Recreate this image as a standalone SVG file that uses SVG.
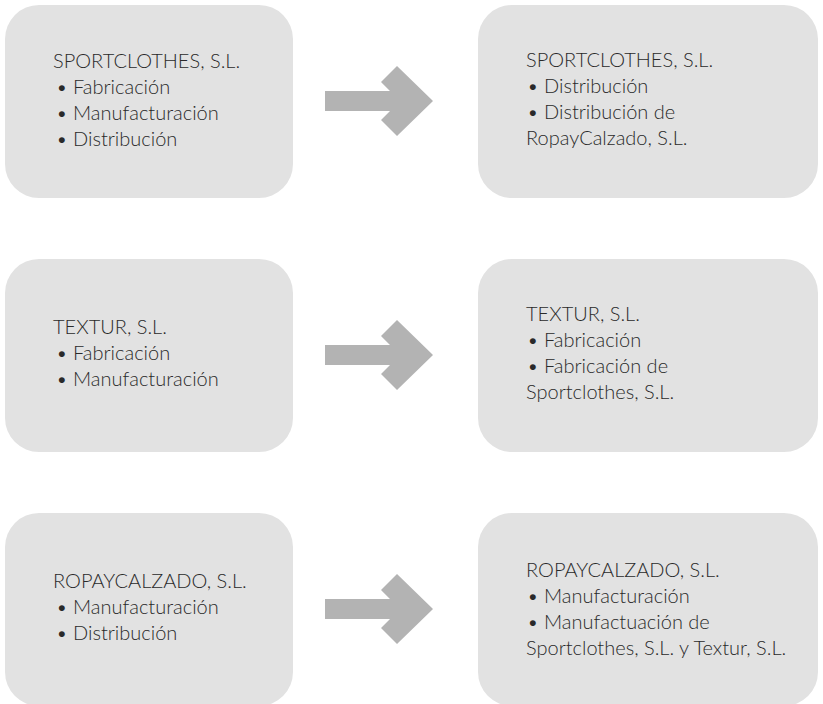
<svg xmlns="http://www.w3.org/2000/svg" width="823" height="704" viewBox="0 0 823 704">
<defs>
<style>
.box{fill:#e2e2e2}
.arrow{fill:#b3b3b3}
text{font-family:Lato,"Liberation Sans",sans-serif;font-weight:300;font-size:20px;fill:#2a2a2a}
</style>
<polygon id="arr" points="325,91 390,91 381,82 397,66 433,101 397,136 381,120 390,111 325,111"/>
</defs>
<rect width="823" height="704" fill="#fff"/>
<g id="connectors">
<use href="#arr" class="arrow"/>
<use href="#arr" class="arrow" y="254"/>
<use href="#arr" class="arrow" y="508"/>
</g>
<g id="n1">
<rect class="box" x="5" y="5" width="288" height="193" rx="34"/>
<text x="53" y="68">SPORTCLOTHES, S.L.</text>
<text x="56" y="94">• Fabricación</text>
<text x="56" y="120">• Manufacturación</text>
<text x="56" y="146">• Distribución</text>
</g>
<g id="n2">
<rect class="box" x="478" y="5" width="340" height="193" rx="34"/>
<text x="526" y="67">SPORTCLOTHES, S.L.</text>
<text x="527" y="93">• Distribución</text>
<text x="527" y="119">• Distribución de</text>
<text x="526" y="145">RopayCalzado, S.L.</text>
</g>
<g id="n3">
<rect class="box" x="5" y="259" width="288" height="193" rx="34"/>
<text x="53" y="334">TEXTUR, S.L.</text>
<text x="56" y="360">• Fabricación</text>
<text x="56" y="386">• Manufacturación</text>
</g>
<g id="n4">
<rect class="box" x="478" y="259" width="340" height="193" rx="34"/>
<text x="526" y="321">TEXTUR, S.L.</text>
<text x="527" y="347">• Fabricación</text>
<text x="527" y="373">• Fabricación de</text>
<text x="526" y="399">Sportclothes, S.L.</text>
</g>
<g id="n5">
<rect class="box" x="5" y="513" width="288" height="193" rx="34"/>
<text x="53" y="588">ROPAYCALZADO, S.L.</text>
<text x="56" y="614">• Manufacturación</text>
<text x="56" y="640">• Distribución</text>
</g>
<g id="n6">
<rect class="box" x="478" y="513" width="340" height="193" rx="34"/>
<text x="526" y="577">ROPAYCALZADO, S.L.</text>
<text x="527" y="603">• Manufacturación</text>
<text x="527" y="629">• Manufactuación de</text>
<text x="526" y="655">Sportclothes, S.L. y Textur, S.L.</text>
</g>
</svg>
